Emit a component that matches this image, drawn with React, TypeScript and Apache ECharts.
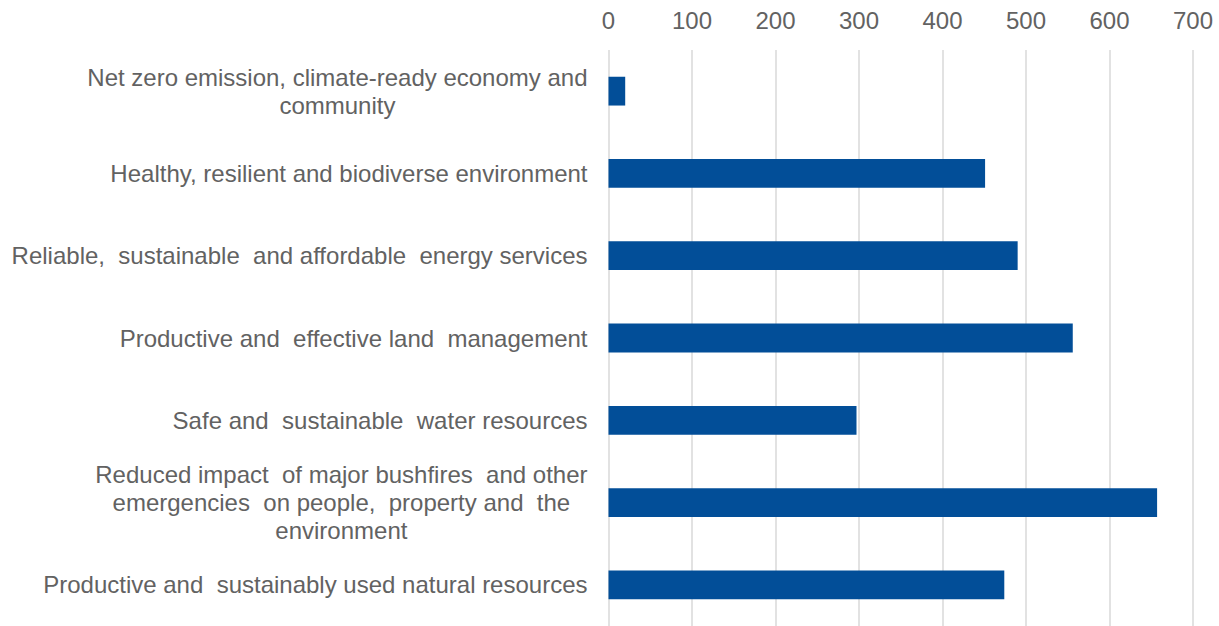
import React, { useEffect, useRef } from "react";
import * as echarts from "echarts";

const categories: string[] = [
  "Net zero emission, climate-ready economy and\ncommunity",
  "Healthy, resilient and biodiverse environment",
  "Reliable,  sustainable  and affordable  energy services",
  "Productive and  effective land  management",
  "Safe and  sustainable  water resources",
  "Reduced impact  of major bushfires  and other\nemergencies  on people,  property and  the\nenvironment",
  "Productive and  sustainably used natural resources",
];

const values: number[] = [20, 451, 490, 556, 297, 657, 474];

const axisMin = 0;
const axisMax = 700;
const axisInterval = 100;

const TEXT_COLOR = "#626262";
const BAR_COLOR = "#024E98";
const FONT = "'Liberation Sans', Arial, sans-serif";

export default function App() {
  const ref = useRef<HTMLDivElement>(null);

  useEffect(() => {
    if (!ref.current) return;
    const chart = echarts.init(ref.current, undefined, { renderer: "svg" });
    chart.setOption({
      animation: false,
      backgroundColor: "#ffffff",
      grid: { left: 608.5, right: 26, top: 50, bottom: -2 },
      xAxis: {
        type: "value",
        position: "top",
        min: axisMin,
        max: axisMax,
        interval: axisInterval,
        axisLine: { show: false },
        axisTick: { show: false },
        axisLabel: {
          color: TEXT_COLOR,
          fontSize: 24,
          fontFamily: FONT,
          margin: 18,
        },
        splitLine: { show: true, lineStyle: { color: "#d9d9d9", width: 1.5 } },
      },
      yAxis: {
        type: "category",
        inverse: true,
        data: categories,
        axisLine: { show: false },
        axisTick: { show: false },
        splitLine: { show: false },
        axisLabel: {
          margin: 21,
          align: "right",
          color: TEXT_COLOR,
          fontSize: 24,
          fontFamily: FONT,
          lineHeight: 28,
          formatter: (v: string) =>
            v
              .split("\n")
              .map((l) => `{c|${l}}`)
              .join("\n"),
          rich: {
            c: {
              align: "center",
              color: TEXT_COLOR,
              fontSize: 24,
              fontFamily: FONT,
              lineHeight: 28,
            },
          },
        },
      },
      series: [
        {
          type: "bar",
          data: values,
          barWidth: "35%",
          itemStyle: { color: BAR_COLOR },
        },
      ],
    });
    return () => chart.dispose();
  }, []);

  return (
    <div
      ref={ref}
      style={{ position: "absolute", left: 0, top: 0, width: 1219, height: 626 }}
    />
  );
}
